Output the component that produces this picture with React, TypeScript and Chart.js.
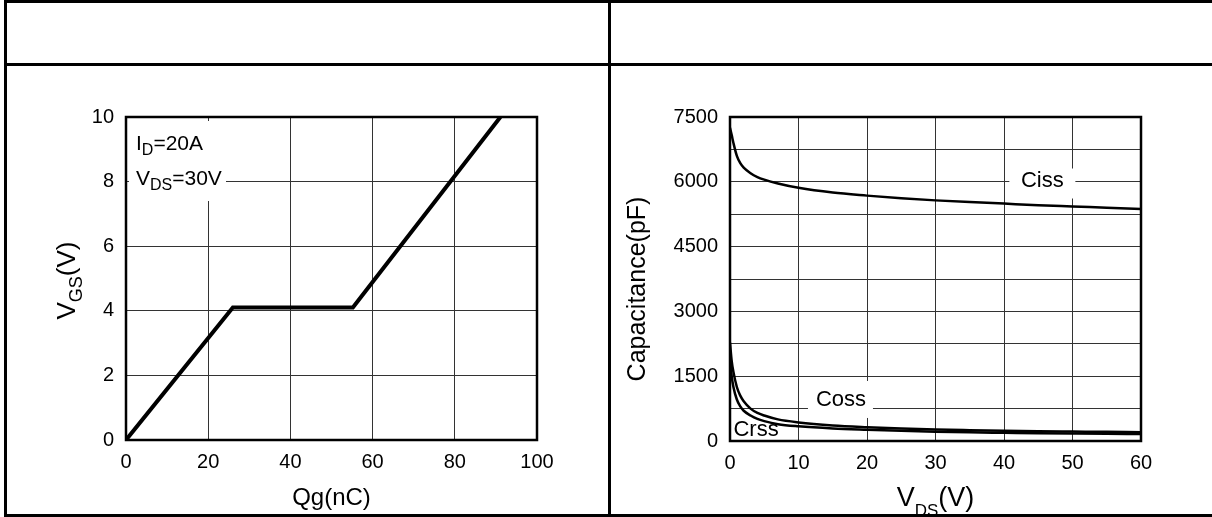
import React, { useEffect, useRef } from 'react';
import { Chart, registerables } from 'chart.js';

Chart.register(...registerables);

const FONT = '"Liberation Sans", Arial, Helvetica, sans-serif';

// ---- Gate charge chart (left) ----
const QG_NC = [0, 26, 55.2, 91.1];
const VGS_V = [0, 4.1, 4.1, 10];
const QG_TICKS = [0, 20, 40, 60, 80, 100];
const VGS_TICKS = [0, 2, 4, 6, 8, 10];

// ---- Capacitance chart (right) ----
const VDS_V = [0, 0.25, 0.5, 1, 1.5, 2, 3, 4, 5, 7, 10, 15, 20, 25, 30, 35, 40, 45, 50, 55, 60];
const CISS_PF = [7250, 7080, 6900, 6600, 6430, 6330, 6200, 6110, 6050, 5960, 5860, 5750, 5680, 5620, 5570, 5530, 5495, 5460, 5430, 5400, 5370];
const COSS_PF = [2280, 1850, 1600, 1250, 1050, 920, 750, 650, 590, 500, 430, 360, 320, 290, 265, 250, 238, 228, 220, 212, 205];
const CRSS_PF = [1950, 1500, 1250, 960, 800, 700, 590, 510, 460, 390, 340, 290, 260, 235, 215, 200, 190, 180, 172, 165, 160];
const VDS_TICKS = [0, 10, 20, 30, 40, 50, 60];
const CAP_GRID = [0, 750, 1500, 2250, 3000, 3750, 4500, 5250, 6000, 6750, 7500];
const CAP_LABELS = [0, 1500, 3000, 4500, 6000, 7500];

type Part = { t: string; size: number; dy?: number };

function partsWidth(ctx: CanvasRenderingContext2D, parts: Part[]) {
  let w = 0;
  for (const p of parts) {
    ctx.font = `${p.size}px ${FONT}`;
    w += ctx.measureText(p.t).width;
  }
  return w;
}

function drawParts(ctx: CanvasRenderingContext2D, parts: Part[], x: number, y: number, align: 'left' | 'center') {
  let cx = align === 'center' ? x - partsWidth(ctx, parts) / 2 : x;
  ctx.textAlign = 'left';
  ctx.textBaseline = 'alphabetic';
  for (const p of parts) {
    ctx.font = `${p.size}px ${FONT}`;
    ctx.fillText(p.t, cx, y + (p.dy || 0));
    cx += ctx.measureText(p.t).width;
  }
}

function setTicks(values: number[]) {
  return (scale: any) => {
    scale.ticks = values.map((v) => ({ value: v }));
  };
}

const tickFont = { family: FONT, size: 20 };

function axis(min: number, max: number, ticks: number[], isX: boolean, size: number, labelFilter?: number[]) {
  return {
    type: 'linear' as const,
    min,
    max,
    afterBuildTicks: setTicks(ticks),
    afterFit: (s: any) => {
      if (isX) s.height = size;
      else s.width = size;
    },
    grid: { color: '#333', lineWidth: 1, drawTicks: false },
    border: { display: false },
    ticks: {
      font: tickFont,
      color: '#000',
      padding: isX ? 10 : 12,
      maxRotation: 0,
      autoSkip: false,
      callback: (v: any) => (labelFilter && !labelFilter.includes(Number(v)) ? '' : String(v)),
    },
  };
}

function frame(ctx: CanvasRenderingContext2D, a: any) {
  ctx.strokeStyle = '#000';
  ctx.lineWidth = 2.5;
  ctx.strokeRect(a.left, a.top, a.right - a.left, a.bottom - a.top);
}

const leftDeco = {
  id: 'leftDeco',
  beforeDatasetsDraw(chart: any) {
    const { ctx, chartArea: a } = chart;
    ctx.save();
    ctx.fillStyle = '#fff';
    ctx.fillRect(a.left + 3, a.top + 4, 97, 80);
    ctx.restore();
  },
  afterDatasetsDraw(chart: any) {
    const { ctx, chartArea: a } = chart;
    ctx.save();
    frame(ctx, a);
    ctx.fillStyle = '#000';
    drawParts(ctx, [{ t: 'I', size: 21 }, { t: 'D', size: 16, dy: 5 }, { t: '=20A', size: 21 }], a.left + 10, a.top + 33, 'left');
    drawParts(ctx, [{ t: 'V', size: 21 }, { t: 'DS', size: 16, dy: 5 }, { t: '=30V', size: 21 }], a.left + 10, a.top + 68, 'left');
    drawParts(ctx, [{ t: 'Qg(nC)', size: 24 }], (a.left + a.right) / 2, 505, 'center');
    ctx.translate(66, (a.top + a.bottom) / 2 + 2);
    ctx.rotate(-Math.PI / 2);
    drawParts(ctx, [{ t: 'V', size: 26 }, { t: 'GS', size: 18, dy: 7 }, { t: '(V)', size: 26 }], 0, 9, 'center');
    ctx.restore();
  },
};

const CISS_LABEL_AT = { x: 45.6, y: 6030 };
const COSS_LABEL_AT = { x: 16.2, y: 950 };
const CRSS_LABEL_AT = { x: 3.8, y: 250 };

const rightDeco = {
  id: 'rightDeco',
  beforeDatasetsDraw(chart: any) {
    const { ctx, scales } = chart;
    const xs = scales.x;
    const ys = scales.y;
    ctx.save();
    ctx.fillStyle = '#fff';
    let cx = xs.getPixelForValue(CISS_LABEL_AT.x);
    let cy = ys.getPixelForValue(CISS_LABEL_AT.y);
    ctx.fillRect(cx - 33, cy - 12, 66, 30);
    cx = xs.getPixelForValue(COSS_LABEL_AT.x);
    cy = ys.getPixelForValue(COSS_LABEL_AT.y);
    ctx.fillRect(cx - 33, cy - 19, 65, 37);
    ctx.restore();
  },
  afterDatasetsDraw(chart: any) {
    const { ctx, chartArea: a, scales } = chart;
    const xs = scales.x;
    const ys = scales.y;
    ctx.save();
    frame(ctx, a);
    ctx.fillStyle = '#000';
    ctx.font = `22px ${FONT}`;
    ctx.textAlign = 'center';
    ctx.textBaseline = 'middle';
    ctx.fillText('Ciss', xs.getPixelForValue(CISS_LABEL_AT.x), ys.getPixelForValue(CISS_LABEL_AT.y));
    ctx.fillText('Coss', xs.getPixelForValue(COSS_LABEL_AT.x), ys.getPixelForValue(COSS_LABEL_AT.y));
    ctx.fillText('Crss', xs.getPixelForValue(CRSS_LABEL_AT.x), ys.getPixelForValue(CRSS_LABEL_AT.y));
    drawParts(ctx, [{ t: 'V', size: 27 }, { t: 'DS', size: 17, dy: 10 }, { t: '(V)', size: 27 }], (a.left + a.right) / 2, 506, 'center');
    ctx.translate(28, 289);
    ctx.rotate(-Math.PI / 2);
    drawParts(ctx, [{ t: 'Capacitance(pF)', size: 25 }], 0, 9, 'center');
    ctx.restore();
  },
};

function toPoints(xs: number[], ys: number[]) {
  return xs.map((x, i) => ({ x, y: ys[i] }));
}

function curve(data: number[]) {
  return {
    data: toPoints(VDS_V, data),
    borderColor: '#000',
    borderWidth: 2.5,
    pointRadius: 0,
    cubicInterpolationMode: 'monotone' as const,
    fill: false,
  };
}

export default function App() {
  const leftRef = useRef<HTMLCanvasElement | null>(null);
  const rightRef = useRef<HTMLCanvasElement | null>(null);

  useEffect(() => {
    const common = {
      responsive: false,
      animation: false as const,
      events: [] as any[],
      plugins: { legend: { display: false }, tooltip: { enabled: false } },
    };
    const left = new Chart(leftRef.current as HTMLCanvasElement, {
      type: 'line',
      data: {
        datasets: [
          {
            data: toPoints(QG_NC, VGS_V),
            borderColor: '#000',
            borderWidth: 4,
            pointRadius: 0,
            tension: 0,
            fill: false,
          },
        ],
      },
      options: {
        ...common,
        layout: { padding: { left: 56, right: 71, top: 117, bottom: 37 } },
        scales: {
          x: axis(0, 100, QG_TICKS, true, 40),
          y: axis(0, 10, VGS_TICKS, false, 70),
        },
      } as any,
      plugins: [leftDeco],
    });
    const right = new Chart(rightRef.current as HTMLCanvasElement, {
      type: 'line',
      data: {
        datasets: [curve(CISS_PF), curve(COSS_PF), curve(CRSS_PF)],
      },
      options: {
        ...common,
        layout: { padding: { left: 47, right: 71, top: 117, bottom: 36 } },
        scales: {
          x: axis(0, 60, VDS_TICKS, true, 40),
          y: axis(0, 7500, CAP_GRID, false, 75, CAP_LABELS),
        },
      } as any,
      plugins: [rightDeco],
    });
    return () => {
      left.destroy();
      right.destroy();
    };
  }, []);

  const line = (l: number, t: number, w: number, h: number): React.CSSProperties => ({
    position: 'absolute',
    left: l,
    top: t,
    width: w,
    height: h,
    background: '#000',
    zIndex: 3,
  });

  return (
    <div style={{ position: 'absolute', left: 0, top: 0, width: 1212, height: 517, background: '#fff', overflow: 'hidden' }}>
      <canvas ref={leftRef} width={608} height={517} style={{ position: 'absolute', left: 0, top: 0, width: 608, height: 517 }} />
      <canvas ref={rightRef} width={604} height={517} style={{ position: 'absolute', left: 608, top: 0, width: 604, height: 517 }} />
      <div style={line(4, 0, 1208, 3)} />
      <div style={line(4, 63, 1208, 3)} />
      <div style={line(4, 514, 1208, 3)} />
      <div style={line(4, 0, 3, 517)} />
      <div style={line(608, 0, 3, 517)} />
    </div>
  );
}
